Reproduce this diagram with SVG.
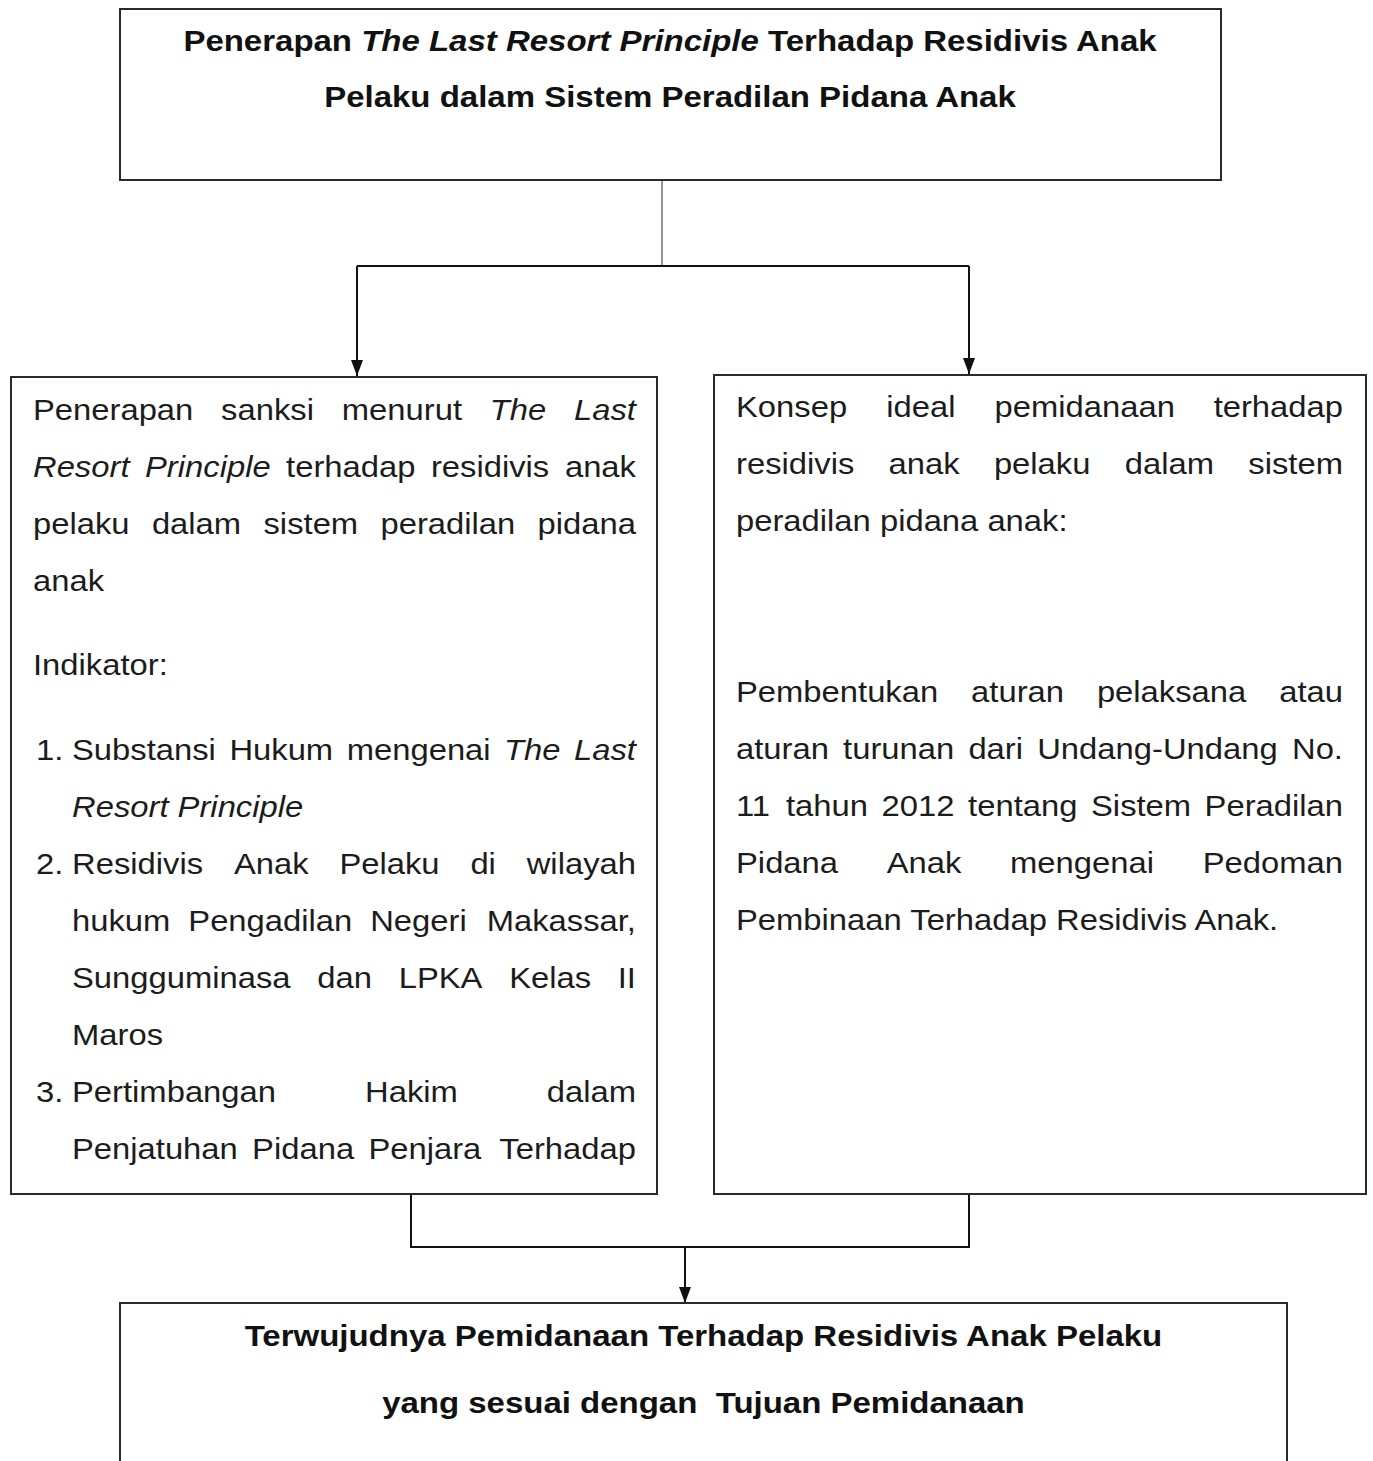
<svg xmlns="http://www.w3.org/2000/svg" width="1373" height="1461" viewBox="0 0 1373 1461">
<defs>
<style>
.box{fill:#ffffff;stroke:#2a2a2a;stroke-width:2}
.conn{fill:none;stroke:#111;stroke-width:2}
.stem{fill:none;stroke:#7a7a7a;stroke-width:1.6}
.body text{font-family:"Liberation Sans",Arial,sans-serif;font-size:29px;fill:#1c1c1c}
.bold text{font-family:"Liberation Sans",Arial,sans-serif;font-size:30px;font-weight:bold;fill:#111;text-anchor:middle}
.i{font-style:italic}
.e{text-anchor:end}
</style>
<marker id="arr" viewBox="0 0 16 12" refX="16" refY="6" markerWidth="16" markerHeight="12" markerUnits="userSpaceOnUse" orient="auto">
<path d="M0,0 L16,6 L0,12 z" fill="#111"/>
</marker>
</defs>
<rect x="0" y="0" width="1373" height="1461" fill="#ffffff"/>

<g id="connectors">
<path class="stem" d="M662,180 V266"/>
<path class="conn" d="M357,266 H969"/>
<path class="conn" d="M357,266 V376" marker-end="url(#arr)"/>
<path class="conn" d="M969,266 V374" marker-end="url(#arr)"/>
<path class="conn" d="M411,1194 V1247 H969 V1194"/>
<path class="conn" d="M685,1247 V1303" marker-end="url(#arr)"/>
</g>

<g id="node-top">
<rect class="box" x="120" y="9" width="1101" height="171"/>
<g class="bold" transform="scale(1.1 1)">
<text x="609.1" y="51">Penerapan <tspan class="i">The Last Resort Principle</tspan> Terhadap Residivis Anak</text>
<text x="609.1" y="107">Pelaku dalam Sistem Peradilan Pidana Anak</text>
</g>
</g>

<g id="node-left">
<rect class="box" x="11" y="377" width="646" height="817"/>
<g class="body" transform="scale(1.13 1)">
<text y="420"><tspan x="29.2">Penerapan</tspan><tspan x="195.66">sanksi</tspan><tspan x="302.48">menurut</tspan><tspan x="433.45" class="i">The</tspan></text>
<text y="420" x="562.83" class="i e">Last</text>
<text y="477"><tspan x="29.2" class="i">Resort</tspan><tspan x="128.32" class="i">Principle</tspan><tspan x="253.19">terhadap</tspan><tspan x="381.33">residivis</tspan></text>
<text y="477" x="562.83" class="e">anak</text>
<text y="534"><tspan x="29.2">pelaku</tspan><tspan x="134.42">dalam</tspan><tspan x="233.19">sistem</tspan><tspan x="336.73">peradilan</tspan></text>
<text y="534" x="562.83" class="e">pidana</text>
<text y="591" x="29.2">anak</text>
<text y="675" x="29.2">Indikator:</text>
<text y="760"><tspan x="31.86">1.</tspan><tspan x="63.72">Substansi</tspan><tspan x="203.01">Hukum</tspan><tspan x="306.81">mengenai</tspan><tspan x="446.11" class="i">The</tspan></text>
<text y="760" x="562.83" class="i e">Last</text>
<text y="817" x="63.72" class="i">Resort Principle</text>
<text y="874"><tspan x="31.86">2.</tspan><tspan x="63.72">Residivis</tspan><tspan x="206.99">Anak</tspan><tspan x="300.35">Pelaku</tspan><tspan x="416.28">di</tspan></text>
<text y="874" x="562.83" class="e">wilayah</text>
<text y="931"><tspan x="63.72">hukum</tspan><tspan x="166.64">Pengadilan</tspan><tspan x="327.61">Negeri</tspan></text>
<text y="931" x="562.83" class="e">Makassar,</text>
<text y="988"><tspan x="63.72">Sungguminasa</tspan><tspan x="280.8">dan</tspan><tspan x="352.83">LPKA</tspan><tspan x="450.62">Kelas</tspan></text>
<text y="988" x="562.83" class="e">II</text>
<text y="1045" x="63.72">Maros</text>
<text y="1102"><tspan x="31.86">3.</tspan><tspan x="63.72">Pertimbangan</tspan><tspan x="323.01">Hakim</tspan></text>
<text y="1102" x="562.83" class="e">dalam</text>
<text y="1159"><tspan x="63.72">Penjatuhan</tspan><tspan x="223.1">Pidana</tspan><tspan x="326.02">Penjara</tspan></text>
<text y="1159" x="562.83" class="e">Terhadap</text>
</g>
</g>

<g id="node-right">
<rect class="box" x="714" y="375" width="652" height="819"/>
<g class="body" transform="scale(1.13 1)">
<text y="417"><tspan x="651.33">Konsep</tspan><tspan x="784.34">ideal</tspan><tspan x="880.18">pemidanaan</tspan></text>
<text y="417" x="1188.5" class="e">terhadap</text>
<text y="474"><tspan x="651.33">residivis</tspan><tspan x="786.37">anak</tspan><tspan x="879.56">pelaku</tspan><tspan x="995.31">dalam</tspan></text>
<text y="474" x="1188.5" class="e">sistem</text>
<text y="531" x="651.33">peradilan pidana anak:</text>
<text y="702"><tspan x="651.33">Pembentukan</tspan><tspan x="859.38">aturan</tspan><tspan x="970.71">pelaksana</tspan></text>
<text y="702" x="1188.5" class="e">atau</text>
<text y="759"><tspan x="651.33">aturan</tspan><tspan x="746.11">turunan</tspan><tspan x="857">dari</tspan><tspan x="917.88">Undang-Undang</tspan></text>
<text y="759" x="1188.5" class="e">No.</text>
<text y="816"><tspan x="651.33">11</tspan><tspan x="695.58">tahun</tspan><tspan x="780.18">2012</tspan><tspan x="856.73">tentang</tspan><tspan x="965.49">Sistem</tspan></text>
<text y="816" x="1188.5" class="e">Peradilan</text>
<text y="873"><tspan x="651.33">Pidana</tspan><tspan x="784.69">Anak</tspan><tspan x="893.89">mengenai</tspan></text>
<text y="873" x="1188.5" class="e">Pedoman</text>
<text y="930" x="651.33">Pembinaan Terhadap Residivis Anak.</text>
</g>
</g>

<g id="node-bottom">
<rect class="box" x="120" y="1303" width="1167" height="180"/>
<g class="bold" transform="scale(1.1 1)">
<text x="639.5" y="1346">Terwujudnya Pemidanaan Terhadap Residivis Anak Pelaku</text>
<text x="639.5" y="1413" style="white-space:pre">yang sesuai dengan  Tujuan Pemidanaan</text>
</g>
</g>
</svg>
